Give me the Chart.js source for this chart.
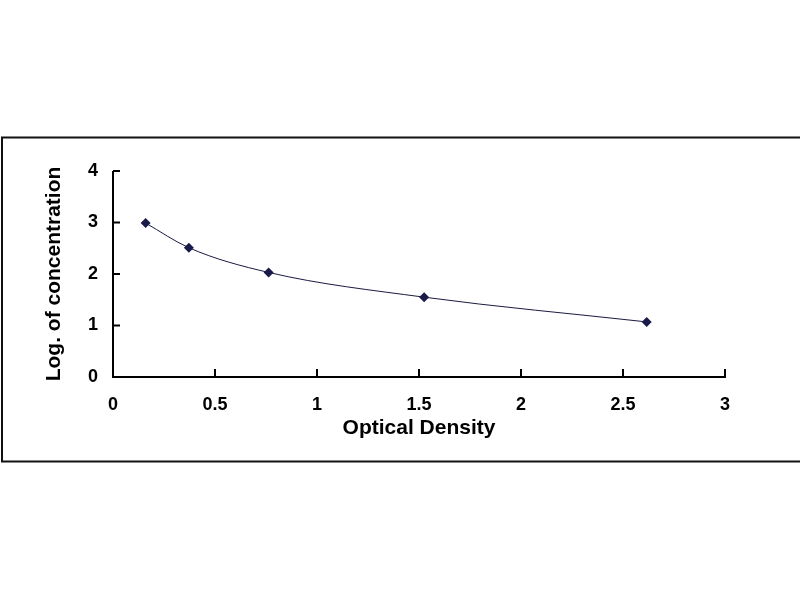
<!DOCTYPE html>
<html>
<head>
<meta charset="utf-8">
<script src="https://cdn.jsdelivr.net/npm/chart.js@4"></script>
<style>
html,body{margin:0;padding:0;background:#fff;}
#wrap{width:800px;height:600px;}
</style>
</head>
<body>
<div id="wrap"><canvas id="c" width="800" height="600"></canvas></div>
<script>
const opticalDensity = [0.160, 0.372, 0.763, 1.525, 2.616];
const logConcentration = [2.99, 2.51, 2.03, 1.55, 1.07];
const xTickValues = [0, 0.5, 1, 1.5, 2, 2.5, 3];
const yTickValues = [0, 1, 2, 3, 4];
const xTitle = 'Optical Density';
const yTitle = 'Log. of concentration';

const points = opticalDensity.map((x, i) => ({x: x, y: logConcentration[i]}));

const frameAndTicks = {
  id: 'frameAndTicks',
  beforeDraw(chart) {
    const ctx = chart.ctx;
    ctx.save();
    ctx.fillStyle = '#ffffff';
    ctx.fillRect(0, 0, chart.width, chart.height);
    ctx.strokeStyle = '#111111';
    ctx.lineWidth = 2;
    ctx.beginPath();
    ctx.moveTo(800, 137.5);
    ctx.lineTo(2, 137.5);
    ctx.lineTo(2, 461.5);
    ctx.lineTo(800, 461.5);
    ctx.stroke();
    ctx.restore();
  },
  afterDatasetsDraw(chart) {
    const ctx = chart.ctx;
    const xs = chart.scales.x, ys = chart.scales.y;
    const x0 = xs.getPixelForValue(0), y0 = ys.getPixelForValue(0);
    ctx.save();
    ctx.strokeStyle = '#000000';
    ctx.lineWidth = 2;
    ctx.beginPath();
    ctx.moveTo(x0, ys.getPixelForValue(4));
    ctx.lineTo(x0, y0);
    ctx.lineTo(xs.getPixelForValue(3) + 1, y0);
    ctx.stroke();
    ctx.beginPath();
    xTickValues.forEach(v => {
      if (v === 0) return;
      const px = xs.getPixelForValue(v);
      ctx.moveTo(px, y0);
      ctx.lineTo(px, y0 - 8);
    });
    yTickValues.forEach(v => {
      if (v === 0) return;
      const py = ys.getPixelForValue(v);
      ctx.moveTo(x0, py);
      ctx.lineTo(x0 + 7, py);
    });
    ctx.stroke();
    ctx.restore();
  }
};

new Chart(document.getElementById('c'), {
  type: 'line',
  data: {
    datasets: [{
      data: points,
      borderColor: '#1a1a40',
      borderWidth: 1,
      backgroundColor: '#1a1a4a',
      pointBackgroundColor: '#1a1a4a',
      pointBorderColor: '#1a1a4a',
      pointStyle: 'rectRot',
      pointRadius: 5,
      pointBorderWidth: 0,
      cubicInterpolationMode: 'monotone',
      fill: false
    }]
  },
  options: {
    responsive: false,
    animation: false,
    devicePixelRatio: 1,
    layout: {padding: {left: 42, top: 171, right: 75, bottom: 155}},
    plugins: {legend: {display: false}, tooltip: {enabled: false}},
    scales: {
      x: {
        type: 'linear',
        min: 0, max: 3,
        afterBuildTicks(scale) { scale.ticks = xTickValues.map(v => ({value: v})); },
        afterFit(scale) { scale.height = 68; },
        grid: {display: false, drawTicks: false},
        border: {display: false},
        ticks: {
          color: '#000',
          font: {family: 'Liberation Sans, Arial', size: 18, weight: 'bold'},
          padding: 17,
          maxRotation: 0,
          callback: v => String(v)
        },
        title: {
          display: true,
          text: xTitle,
          color: '#000',
          font: {family: 'Liberation Sans, Arial', size: 21, weight: 'bold'},
          padding: {top: 4}
        }
      },
      y: {
        type: 'linear',
        min: 0, max: 4,
        afterBuildTicks(scale) { scale.ticks = yTickValues.map(v => ({value: v})); },
        afterFit(scale) { scale.width = 71; },
        grid: {display: false, drawTicks: false},
        border: {display: false},
        ticks: {
          color: '#000',
          font: {family: 'Liberation Sans, Arial', size: 18, weight: 'bold'},
          padding: 15,
          callback: v => String(v)
        },
        title: {
          display: true,
          text: yTitle,
          color: '#000',
          font: {family: 'Liberation Sans, Arial', size: 21, weight: 'bold'},
          padding: {top: 0, bottom: 0}
        }
      }
    }
  },
  plugins: [frameAndTicks]
});
</script>
</body>
</html>
